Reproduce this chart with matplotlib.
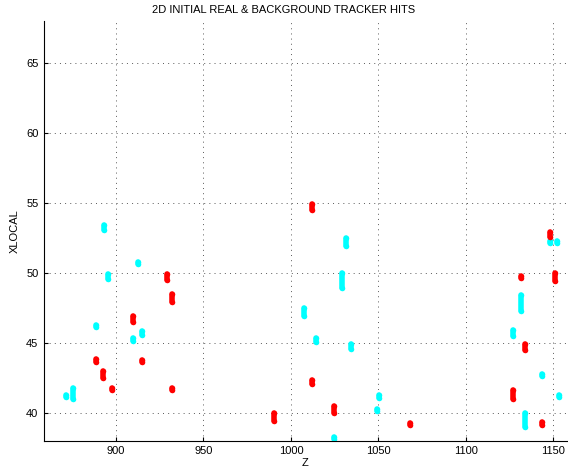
import matplotlib
matplotlib.use("Agg")
import matplotlib.pyplot as plt

plt.rcParams['font.family'] = ['Liberation Sans', 'DejaVu Sans']

# real hits: Z position, XLOCAL low / high end of each hit cluster
red_z = [888.4, 892.7, 897.9, 909.9, 915.0, 929.3, 932.0, 932.0, 990.5,
         1012.2, 1012.1, 1024.6, 1068.1, 1148.3, 1151.0, 1131.4, 1133.8,
         1126.8, 1143.7]
red_lo = [43.6, 42.5, 41.65, 46.5, 43.6, 49.5, 47.9, 41.65, 39.4,
          54.5, 42.05, 40.0, 39.1, 52.55, 49.45, 49.65, 44.5,
          41.0, 39.1]
red_hi = [43.85, 43.0, 41.75, 46.9, 43.8, 49.9, 48.5, 41.75, 39.95,
          54.9, 42.35, 40.45, 39.3, 52.9, 50.0, 49.75, 44.95,
          41.6, 39.35]

# background hits
cyan_z = [893.1, 895.3, 912.4, 888.4, 915.0, 909.9, 875.6, 871.2,
          1031.7, 1029.2, 1007.5, 1014.5, 1034.2, 1024.8, 1050.4, 1049.1,
          1148.0, 1152.0, 1131.4, 1126.8, 1143.7, 1153.5, 1133.8]
cyan_lo = [53.05, 49.55, 50.65, 46.15, 45.55, 45.1, 41.0, 41.15,
           51.9, 48.95, 46.9, 45.05, 44.55, 38.1, 41.05, 40.1,
           52.15, 52.15, 47.3, 45.5, 42.65, 41.1, 38.95]
cyan_hi = [53.4, 49.9, 50.75, 46.25, 45.85, 45.35, 41.8, 41.25,
           52.5, 50.0, 47.5, 45.35, 44.95, 38.3, 41.3, 40.3,
           52.3, 52.3, 48.4, 45.9, 42.75, 41.3, 40.0]

fig = plt.figure(figsize=(5.68, 4.69), dpi=100)
ax = fig.add_axes([0.0775, 0.0603, 0.9208, 0.8943])

for z, lo, hi in zip(cyan_z, cyan_lo, cyan_hi):
    ax.plot([z, z], [lo, hi], '-o', color='#00ffff', lw=4, ms=4, mew=0,
            solid_capstyle='round')
for z, lo, hi in zip(red_z, red_lo, red_hi):
    ax.plot([z, z], [lo, hi], '-o', color='#ff0000', lw=4, ms=4, mew=0,
            solid_capstyle='round')

ax.set_xlim(858.8, 1157.9)
ax.set_ylim(38, 68)
ax.set_xticks([900, 950, 1000, 1050, 1100, 1150])
ax.set_yticks([40, 45, 50, 55, 60, 65])
ax.grid(True, color='0.35', lw=0.7, linestyle=(0, (1, 4.3)))
ax.set_axisbelow(True)
ax.spines['top'].set_visible(False)
ax.spines['right'].set_visible(False)
ax.tick_params(direction='in', length=3, labelsize=8, pad=4)

fig.text(0.5, 0.979, '2D INITIAL REAL & BACKGROUND TRACKER HITS',
         ha='center', va='center', fontsize=8)
fig.text(0.537, 0.013, 'Z', ha='center', va='center', fontsize=8)
fig.text(0.026, 0.507, 'XLOCAL', ha='center', va='center', fontsize=8,
         rotation=90)

fig.savefig('out.png', dpi=100)
